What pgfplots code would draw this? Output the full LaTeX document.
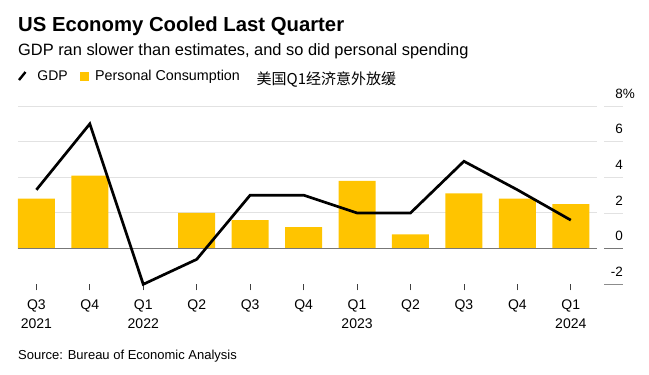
\documentclass[border=0pt]{standalone}
\usepackage{fontspec}
\setmainfont{Liberation Sans}
\newfontfamily\cjk{Noto Sans CJK SC}
\usepackage{pgfplots}
\pgfplotsset{compat=1.18}
\definecolor{byellow}{HTML}{FFC400}
\definecolor{gridc}{HTML}{E2E2E2}
\definecolor{zeroc}{HTML}{777777}
\begin{document}
\begin{tikzpicture}[x=1pt,y=1pt]
\path[use as bounding box] (0,0) rectangle (649,-375);
% titles
\node[anchor=base west, inner sep=0] at (18,-31.7) {\fontsize{20.3}{24}\selectfont\bfseries US Economy Cooled Last Quarter};
\node[anchor=base west, inner sep=0] at (18,-55.3) {\fontsize{16.4}{20}\selectfont GDP ran slower than estimates, and so did personal spending};
% legend
\draw[black, line width=2.4pt] (19,-80) -- (25.5,-72);
\node[anchor=base west, inner sep=0] at (37.3,-80.7) {\fontsize{14}{17}\selectfont GDP};
\fill[byellow] (80,-72) rectangle (89,-81);
\node[anchor=base west, inner sep=0] at (95,-80.7) {\fontsize{14.3}{17}\selectfont Personal Consumption};
\node[anchor=base west, inner sep=0] at (256.5,-84) {\fontsize{15}{18}\selectfont\cjk 美国Q1经济意外放缓};
% source
\node[anchor=base west, inner sep=0] at (18,-359) {\fontsize{13}{16}\selectfont Source: Bureau of Economic Analysis};
\begin{axis}[
  at={(18pt,-284.3pt)}, anchor=south west,
  scale only axis, width=579pt, height=178.3pt,
  xmin=-0.344, xmax=10.49, ymin=-2, ymax=8,
  axis line style={draw=none},
  ytick={2,4,6,8}, yticklabels={}, ymajorgrids,
  major grid style={gridc, line width=1pt},
  ytick style={draw=none},
  xtick={0,1,2,3,4,5,6,7,8,9,10},
  xticklabels={{Q3\\2021},Q4,{Q1\\2022},Q2,Q3,Q4,{Q1\\2023},Q2,Q3,Q4,{Q1\\2024}},
  xtick pos=left, tick align=outside,
  xtick style={draw=black!75, line width=0.8pt},
  major tick length=6pt,
  xticklabel style={font=\fontsize{14}{19}\selectfont, align=center, yshift=-6pt},
  clip=false,
]
\addplot[ybar, bar width=37pt, fill=byellow, draw=none] coordinates {
  (0,2.8) (1,4.1) (2,0.0) (3,2.0) (4,1.6) (5,1.2) (6,3.8) (7,0.8) (8,3.1) (9,2.8) (10,2.5)};
\draw[zeroc, line width=1pt] (axis cs:-0.344,0) -- (axis cs:10.49,0);
\addplot[black, line width=2.7pt, mark=none] coordinates {
  (0,3.3) (1,7.0) (2,-2.0) (3,-0.6) (4,3.0) (5,3.0) (6,2.0) (7,2.0) (8,4.9) (9,3.3) (10,1.6)};
\end{axis}
% right axis ticks and labels
\draw[gridc, line width=1pt] (604,-106) -- (623,-106);
\draw[gridc, line width=1pt] (604,-141.7) -- (623,-141.7);
\draw[gridc, line width=1pt] (604,-177.3) -- (623,-177.3);
\draw[gridc, line width=1pt] (604,-213) -- (623,-213);
\draw[zeroc, line width=1pt] (604,-248.6) -- (623,-248.6);
\draw[black!45, line width=1pt] (604,-284.3) -- (623,-284.3);
\begin{scope}[every node/.style={anchor=base east, inner sep=0, font=\fontsize{13.5}{16}\selectfont}]
\node at (623,-98) {8\rlap{\%}};
\node at (623,-133.7) {6};
\node at (623,-169.3) {4};
\node at (623,-205) {2};
\node at (623,-240.6) {0};
\node at (623,-276.3) {-2};
\end{scope}
\end{tikzpicture}
\end{document}
